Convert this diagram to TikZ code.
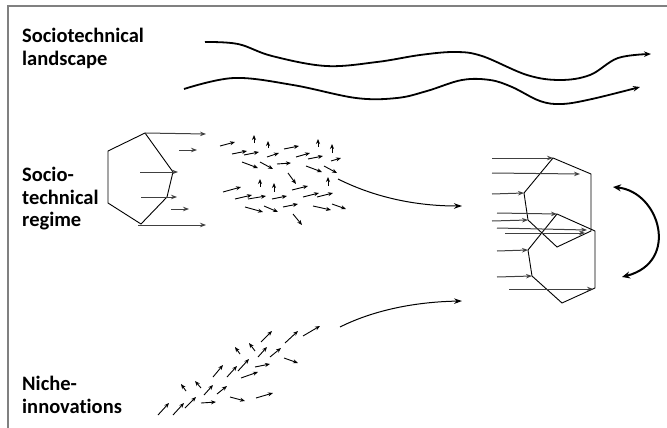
\documentclass[tikz,border=0pt]{standalone}
\usepackage{fontspec}
\setmainfont{Carlito}[Ligatures=NoCommon]
\usetikzlibrary{arrows.meta}

\begin{document}
\begin{tikzpicture}[x=1pt,y=-1pt,>={Stealth[length=5pt,width=4pt]},
    lbl/.style={anchor=north west,align=left,inner sep=0pt,
                font=\bfseries\fontsize{20.5}{22.5}\selectfont},
    poly/.style={line width=0.9pt},
    push/.style={->,line width=1pt,draw=black!75,>={Stealth[length=6pt,width=4.5pt]}},
    drift/.style={->,line width=0.9pt},
    wave/.style={->,line width=1.8pt,>={Stealth[length=7pt,width=5.5pt]}},
    flow/.style={->,line width=1pt,>={Stealth[length=8pt,width=5.5pt]}}]
    \useasboundingbox (0,0) rectangle (667,428);
    \draw[black!50,line width=2pt] (8,428) -- (8,6) -- (667,6);

    % levels
    \node[lbl] (landscape) at (22,28)  {Sociotechnical\\landscape};
    \node[lbl] (regime)    at (22,167) {Socio-\\technical\\regime};
    \node[lbl] (niche)     at (22,376) {Niche-\\innovations};

    % landscape trends
    \draw[wave] plot[smooth,tension=0.6] coordinates {(205,42) (238,44) (272,56) (326,66) (377,62)
        (420,55) (455,52) (482,56) (527,75) (560,80) (590,75) (618,58) (651,54)};
    \draw[wave] plot[smooth,tension=0.6] coordinates {(184,89) (234,78) (293,85) (356,98) (397,98)
        (427,91) (462,80) (490,80) (512,87) (540,101) (562,104) (592,99) (640,87)};

    % regime
    \coordinate (r1) at (145,133);
    \coordinate (r2) at (173,172);
    \coordinate (r3) at (167,197);
    \coordinate (r4) at (141,224);
    \coordinate (r5) at (108,203);
    \coordinate (r6) at (108,151);
    \draw[poly] (r1) -- (r2) -- (r3) -- (r4) -- (r5) -- (r6) -- cycle;
    \draw[push] (r1) -- (206,134);
    \draw[push] (179,150) -- (197,150);
    \draw[push] (140,172) -- (178,172);
    \draw[push] (141,197) -- (177,197);
    \draw[push] (171,209) -- (189,209);
    \draw[push] (138,225) -- (206,225);

    \foreach \xa/\ya/\xb/\yb in {220/146/235/142, 254/143/254/135, 268/148/268/141, 284/149/299/146,
        318/147/318/139, 332/153/332/144, 232/154/247/151, 244/155/259/152, 267/157/279/153,
        296/157/310/153, 308/159/323/156, 331/161/341/158, 242/162/258/168, 260/162/273/169,
        277/164/291/163, 306/166/322/172, 324/166/337/173, 288/173/296/184, 260/187/260/179,
        274/192/274/183, 328/186/328/177, 223/192/241/187, 292/190/308/186, 235/199/252/195,
        248/199/266/196, 272/199/287/196, 303/197/319/193, 317/197/333/193, 245/207/263/212,
        264/206/278/212, 283/207/298/204, 313/206/331/210, 332/204/346/209, 293/214/302/225}
        \draw[drift] (\xa,\ya) -- (\xb,\yb);

    % niches
    \foreach \xa/\ya/\xb/\yb in {158/415/169/403, 173/415/184/403, 185/408/196/397, 201/403/216/402,
        186/391/181/384, 201/388/195/381, 204/395/213/385, 217/394/227/386, 230/397/245/401,
        256/398/273/393, 213/377/223/365, 227/377/237/366, 238/371/249/359, 241/378/258/372,
        255/367/270/364, 240/354/235/347, 255/351/249/343, 258/357/267/347, 270/357/281/348,
        261/342/272/331, 284/358/298/363, 285/343/298/331, 303/336/320/326}
        \draw[drift] (\xa,\ya) -- (\xb,\yb);

    % new regime
    \coordinate (u1) at (553,158);
    \coordinate (u2) at (591,174);
    \coordinate (u3) at (591,231);
    \coordinate (u4) at (557,247);
    \coordinate (u5) at (528,220);
    \coordinate (u6) at (524,193);
    \coordinate (w1) at (557,214);
    \coordinate (w2) at (595,231);
    \coordinate (w3) at (595,288);
    \coordinate (w4) at (562,303);
    \coordinate (w5) at (532,276);
    \coordinate (w6) at (528,250);
    \draw[poly] (u1) -- (u2) -- (u3) -- (u4) -- (u5) -- (u6) -- cycle;
    \draw[poly] (w1) -- (w2) -- (w3) -- (w4) -- (w5) -- (w6) -- cycle;
    \draw[push] (492,158) -- (u1);
    \draw[push] (492,173) -- (580,174);
    \draw[push] (492,194) -- (u6);
    \draw[push] (497,213) -- (w1);
    \draw[push] (492,221) -- (u5);
    \draw[push] (497,228) -- (587,230);
    \draw[push] (505,233) -- (585,233);
    \draw[push] (497,251) -- (w6);
    \draw[push] (497,277) -- (w5);
    \draw[push] (509,289) -- (593,289);
    \draw[<->,line width=2pt,>={Stealth[length=8pt,width=7pt]}]
        (613,187) .. controls (660,192) and (680,262) .. (622,277);

    % breakthrough
    \coordinate (cloud) at (338,179);
    \coordinate (niches) at (340,327);
    \draw[flow] (cloud) .. controls (370,195) and (410,206) .. (462,206);
    \draw[flow] (niches) .. controls (370,312) and (410,302) .. (462,301);
\end{tikzpicture}
\end{document}
